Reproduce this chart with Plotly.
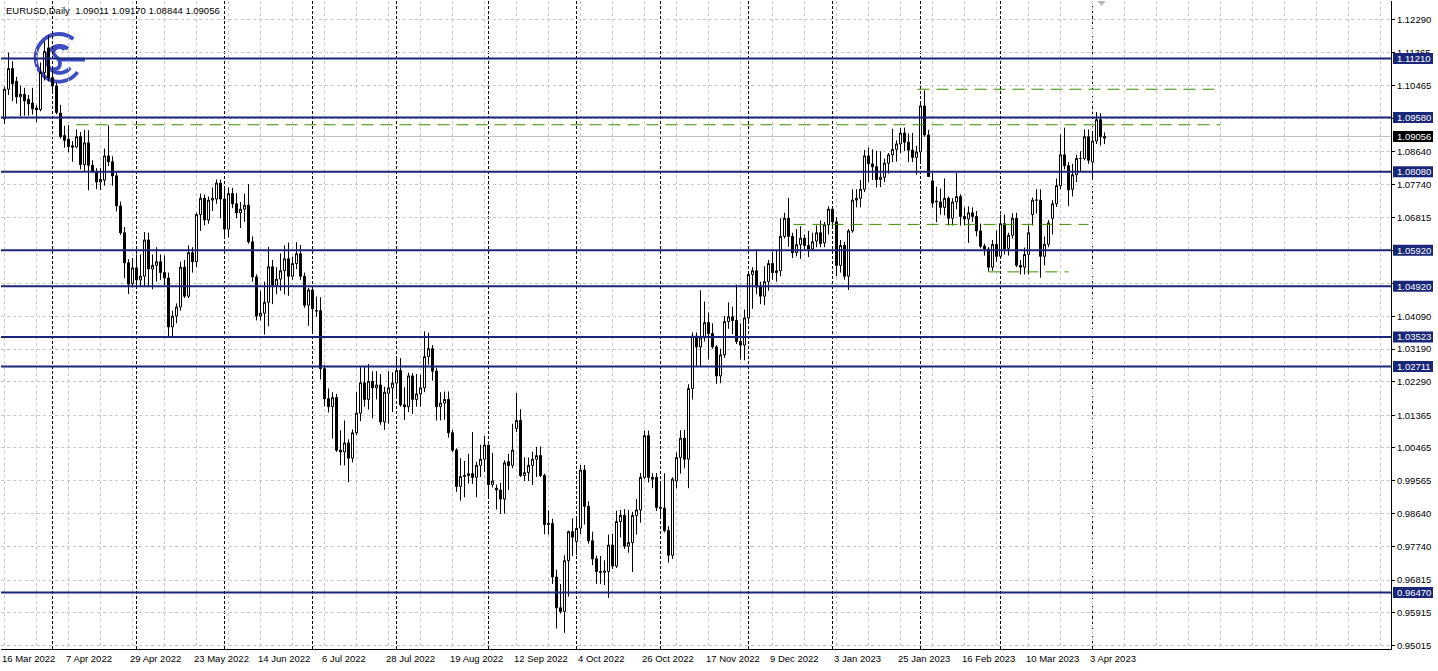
import base64
import plotly.graph_objects as go

# ---- daily bars, (open, high, low, close) per month ----
mar_2022 = [
    (1.0954, 1.1043, 1.0940, 1.1036), (1.1036, 1.1137, 1.1020, 1.1093), (1.1093, 1.1113, 1.1003, 1.1051),
    (1.1058, 1.1070, 1.0996, 1.1015), (1.1015, 1.1046, 1.0962, 1.1022), (1.1022, 1.1040, 1.0963, 1.1004),
    (1.1008, 1.1020, 1.0963, 1.0996), (1.0998, 1.1040, 1.0966, 1.0982), (1.0984, 1.0992, 1.0945, 1.0979),
    (1.0980, 1.1110, 1.0975, 1.1082), (1.1082, 1.1168, 1.1060, 1.1140), (1.1150, 1.1185, 1.1058, 1.1068),
]
apr_2022 = [
    (1.1068, 1.1090, 1.1030, 1.1045), (1.1045, 1.1054, 1.0967, 1.0972), (1.0970, 1.0993, 1.0900, 1.0905),
    (1.0908, 1.0935, 1.0875, 1.0895), (1.0898, 1.0937, 1.0862, 1.0878), (1.0880, 1.0893, 1.0836, 1.0876),
    (1.0877, 1.0925, 1.0873, 1.0905), (1.0905, 1.0918, 1.0815, 1.0828), (1.0828, 1.0924, 1.0808, 1.0888),
    (1.0888, 1.0923, 1.0757, 1.0826), (1.0826, 1.0840, 1.0805, 1.0810), (1.0808, 1.0818, 1.0760, 1.0780),
    (1.0780, 1.0819, 1.0758, 1.0787), (1.0785, 1.0872, 1.0770, 1.0852), (1.0852, 1.0936, 1.0824, 1.0836),
    (1.0836, 1.0851, 1.0770, 1.0797), (1.0797, 1.0807, 1.0699, 1.0714), (1.0714, 1.0726, 1.0634, 1.0640),
    (1.0640, 1.0656, 1.0514, 1.0557), (1.0557, 1.0567, 1.0471, 1.0498), (1.0500, 1.0570, 1.0489, 1.0543),
]
may_2022 = [
    (1.0543, 1.0580, 1.0490, 1.0510), (1.0510, 1.0580, 1.0490, 1.0520), (1.0520, 1.0642, 1.0490, 1.0620),
    (1.0620, 1.0640, 1.0490, 1.0540), (1.0540, 1.0580, 1.0484, 1.0550), (1.0550, 1.0600, 1.0505, 1.0560),
    (1.0560, 1.0580, 1.0510, 1.0530), (1.0530, 1.0577, 1.0495, 1.0515), (1.0515, 1.0530, 1.0350, 1.0380),
    (1.0380, 1.0425, 1.0350, 1.0410), (1.0410, 1.0445, 1.0390, 1.0435), (1.0435, 1.0560, 1.0425, 1.0545),
    (1.0545, 1.0565, 1.0460, 1.0465), (1.0465, 1.0605, 1.0460, 1.0585), (1.0585, 1.0600, 1.0530, 1.0560),
    (1.0560, 1.0695, 1.0545, 1.0690), (1.0690, 1.0748, 1.0645, 1.0735), (1.0735, 1.0745, 1.0660, 1.0675),
    (1.0675, 1.0740, 1.0665, 1.0730), (1.0730, 1.0765, 1.0700, 1.0735), (1.0733, 1.0787, 1.0720, 1.0777),
    (1.0777, 1.0787, 1.0680, 1.0733),
]
jun_2022 = [
    (1.0733, 1.0765, 1.0625, 1.0650), (1.0650, 1.0765, 1.0627, 1.0748), (1.0748, 1.0764, 1.0708, 1.0720),
    (1.0720, 1.0750, 1.0680, 1.0695), (1.0695, 1.0725, 1.0653, 1.0705), (1.0705, 1.0748, 1.0670, 1.0716),
    (1.0716, 1.0774, 1.0610, 1.0615), (1.0615, 1.0630, 1.0505, 1.0518), (1.0518, 1.0525, 1.0398, 1.0410),
    (1.0410, 1.0480, 1.0398, 1.0418), (1.0418, 1.0505, 1.0359, 1.0448), (1.0448, 1.0601, 1.0382, 1.0546),
    (1.0546, 1.0565, 1.0443, 1.0495), (1.0495, 1.0545, 1.0470, 1.0512), (1.0512, 1.0583, 1.0480, 1.0535),
    (1.0535, 1.0605, 1.0470, 1.0568), (1.0568, 1.0613, 1.0466, 1.0520), (1.0520, 1.0574, 1.0510, 1.0555),
    (1.0555, 1.0614, 1.0540, 1.0582), (1.0582, 1.0606, 1.0510, 1.0520), (1.0520, 1.0530, 1.0433, 1.0440),
    (1.0440, 1.0488, 1.0383, 1.0482),
]
jul_2022 = [
    (1.0482, 1.0486, 1.0366, 1.0430), (1.0425, 1.0464, 1.0408, 1.0424), (1.0425, 1.0462, 1.0235, 1.0265),
    (1.0265, 1.0275, 1.0161, 1.0182), (1.0182, 1.0210, 1.0144, 1.0160), (1.0160, 1.0200, 1.0072, 1.0185),
    (1.0185, 1.0195, 1.0035, 1.0040), (1.0040, 1.0095, 0.9998, 1.0035), (1.0035, 1.0122, 0.9998, 1.0060),
    (1.0060, 1.0070, 0.9952, 1.0018), (1.0018, 1.0097, 1.0006, 1.0088), (1.0088, 1.0201, 1.0082, 1.0142),
    (1.0142, 1.0269, 1.0120, 1.0226), (1.0226, 1.0272, 1.0160, 1.0180), (1.0180, 1.0278, 1.0152, 1.0230),
    (1.0230, 1.0258, 1.0128, 1.0212), (1.0212, 1.0258, 1.0180, 1.0220), (1.0220, 1.0250, 1.0110, 1.0118),
    (1.0118, 1.0215, 1.0096, 1.0200), (1.0197, 1.0258, 1.0113, 1.0212), (1.0212, 1.0255, 1.0145, 1.0225),
]
aug_2022 = [
    (1.0225, 1.0294, 1.0187, 1.0260), (1.0260, 1.0294, 1.0160, 1.0165), (1.0165, 1.0214, 1.0123, 1.0160),
    (1.0160, 1.0254, 1.0145, 1.0245), (1.0245, 1.0252, 1.0140, 1.0180), (1.0180, 1.0250, 1.0160, 1.0195),
    (1.0195, 1.0248, 1.0160, 1.0212), (1.0212, 1.0368, 1.0200, 1.0298), (1.0298, 1.0364, 1.0276, 1.0320),
    (1.0320, 1.0330, 1.0232, 1.0258), (1.0258, 1.0268, 1.0122, 1.0160), (1.0160, 1.0200, 1.0122, 1.0170),
    (1.0170, 1.0202, 1.0124, 1.0180), (1.0180, 1.0202, 1.0075, 1.0088), (1.0088, 1.0096, 1.0035, 1.0040),
    (1.0040, 1.0045, 0.9925, 0.9940), (0.9940, 1.0018, 0.9900, 0.9967), (0.9967, 1.0010, 0.9910, 0.9970),
    (0.9970, 1.0030, 0.9948, 0.9975), (0.9975, 1.0090, 0.9947, 0.9965), (0.9965, 1.0008, 0.9910, 0.9998),
    (0.9998, 1.0055, 0.9966, 1.0015), (1.0015, 1.0079, 0.9980, 1.0054),
]
sep_2022 = [
    (1.0054, 1.0055, 0.9910, 0.9945), (0.9945, 1.0033, 0.9937, 0.9955), (0.9935, 0.9945, 0.9876, 0.9930),
    (0.9930, 0.9950, 0.9864, 0.9905), (0.9905, 1.0012, 0.9865, 1.0005), (1.0008, 1.0030, 0.9930, 0.9998),
    (0.9998, 1.0113, 0.9990, 1.0040), (1.0100, 1.0198, 1.0090, 1.0122), (1.0122, 1.0153, 0.9966, 0.9970),
    (0.9970, 1.0020, 0.9955, 0.9978), (0.9978, 1.0020, 0.9955, 0.9998), (0.9998, 1.0036, 0.9944, 1.0015),
    (1.0015, 1.0049, 0.9966, 1.0025), (1.0025, 1.0050, 0.9966, 0.9970), (0.9970, 0.9975, 0.9808, 0.9835),
    (0.9835, 0.9874, 0.9807, 0.9838), (0.9838, 0.9851, 0.9671, 0.9690), (0.9690, 0.9710, 0.9548, 0.9605),
    (0.9605, 0.9671, 0.9589, 0.9595), (0.9595, 0.9750, 0.9536, 0.9735), (0.9735, 0.9818, 0.9636, 0.9815),
    (0.9815, 0.9852, 0.9748, 0.9800),
]
oct_2022 = [
    (0.9788, 0.9853, 0.9750, 0.9824), (0.9825, 0.9999, 0.9808, 0.9985), (0.9985, 0.9999, 0.9835, 0.9885),
    (0.9885, 0.9899, 0.9782, 0.9790), (0.9790, 0.9815, 0.9723, 0.9740), (0.9740, 0.9749, 0.9671, 0.9705),
    (0.9705, 0.9748, 0.9671, 0.9703), (0.9703, 0.9736, 0.9668, 0.9706), (0.9705, 0.9807, 0.9632, 0.9778),
    (0.9778, 0.9809, 0.9712, 0.9720), (0.9720, 0.9873, 0.9715, 0.9843), (0.9843, 0.9875, 0.9799, 0.9860),
    (0.9860, 0.9877, 0.9767, 0.9775), (0.9775, 0.9875, 0.9757, 0.9785), (0.9785, 0.9870, 0.9704, 0.9860),
    (0.9860, 0.9905, 0.9807, 0.9875), (0.9875, 0.9977, 0.9840, 0.9965), (0.9965, 1.0094, 0.9960, 1.0080),
    (1.0080, 1.0094, 0.9951, 0.9965), (0.9965, 0.9976, 0.9935, 0.9960), (0.9965, 0.9977, 0.9872, 0.9882),
]
nov_2022 = [
    (0.9882, 0.9954, 0.9851, 0.9880), (0.9880, 0.9976, 0.9813, 0.9818), (0.9818, 0.9830, 0.9730, 0.9750),
    (0.9750, 0.9965, 0.9740, 0.9960), (0.9955, 1.0034, 0.9935, 1.0020), (1.0020, 1.0095, 0.9975, 1.0073),
    (1.0073, 1.0096, 0.9990, 1.0015), (1.0015, 1.0222, 0.9935, 1.0210), (1.0210, 1.0365, 1.0180, 1.0355),
    (1.0355, 1.0365, 1.0270, 1.0325), (1.0325, 1.0481, 1.0270, 1.0350), (1.0350, 1.0450, 1.0340, 1.0392),
    (1.0392, 1.0420, 1.0290, 1.0362), (1.0362, 1.0390, 1.0320, 1.0325), (1.0325, 1.0330, 1.0223, 1.0245),
    (1.0245, 1.0320, 1.0225, 1.0303), (1.0303, 1.0410, 1.0295, 1.0395), (1.0395, 1.0448, 1.0375, 1.0408),
    (1.0408, 1.0436, 1.0360, 1.0398), (1.0398, 1.0497, 1.0333, 1.0340), (1.0340, 1.0390, 1.0290, 1.0330),
    (1.0330, 1.0428, 1.0288, 1.0405),
]
dec_2022 = [
    (1.0405, 1.0534, 1.0390, 1.0525), (1.0525, 1.0545, 1.0430, 1.0535), (1.0535, 1.0595, 1.0470, 1.0490),
    (1.0490, 1.0505, 1.0443, 1.0465), (1.0465, 1.0548, 1.0440, 1.0505), (1.0505, 1.0565, 1.0480, 1.0555),
    (1.0555, 1.0588, 1.0510, 1.0530), (1.0530, 1.0590, 1.0505, 1.0535), (1.0535, 1.0680, 1.0520, 1.0630),
    (1.0630, 1.0695, 1.0624, 1.0680), (1.0680, 1.0736, 1.0601, 1.0630), (1.0630, 1.0640, 1.0570, 1.0585),
    (1.0585, 1.0650, 1.0575, 1.0607), (1.0607, 1.0658, 1.0568, 1.0625), (1.0625, 1.0635, 1.0590, 1.0605),
    (1.0605, 1.0645, 1.0573, 1.0595), (1.0595, 1.0640, 1.0590, 1.0615), (1.0617, 1.0660, 1.0600, 1.0640),
    (1.0640, 1.0674, 1.0600, 1.0610), (1.0612, 1.0670, 1.0600, 1.0662), (1.0662, 1.0713, 1.0635, 1.0705),
]
jan_2023 = [
    (1.0705, 1.0713, 1.0655, 1.0670), (1.0670, 1.0683, 1.0520, 1.0550), (1.0550, 1.0620, 1.0530, 1.0605),
    (1.0605, 1.0615, 1.0510, 1.0520), (1.0520, 1.0650, 1.0482, 1.0645), (1.0645, 1.0760, 1.0640, 1.0730),
    (1.0730, 1.0760, 1.0710, 1.0735), (1.0735, 1.0786, 1.0710, 1.0760), (1.0760, 1.0868, 1.0752, 1.0852),
    (1.0852, 1.0875, 1.0780, 1.0830), (1.0830, 1.0870, 1.0786, 1.0822), (1.0822, 1.0866, 1.0765, 1.0787),
    (1.0787, 1.0865, 1.0766, 1.0793), (1.0793, 1.0845, 1.0780, 1.0832), (1.0832, 1.0860, 1.0803, 1.0855),
    (1.0855, 1.0927, 1.0835, 1.0870), (1.0870, 1.0895, 1.0836, 1.0885), (1.0885, 1.0929, 1.0860, 1.0915),
    (1.0915, 1.0930, 1.0865, 1.0890), (1.0890, 1.0914, 1.0835, 1.0868), (1.0868, 1.0915, 1.0835, 1.0848),
    (1.0848, 1.0880, 1.0800, 1.0863),
]
feb_2023 = [
    (1.0863, 1.0998, 1.0830, 1.0990), (1.0990, 1.1033, 1.0905, 1.0910), (1.0910, 1.0924, 1.0795, 1.0795),
    (1.0783, 1.0805, 1.0710, 1.0722), (1.0725, 1.0767, 1.0669, 1.0727), (1.0725, 1.0762, 1.0690, 1.0710),
    (1.0710, 1.0790, 1.0688, 1.0735), (1.0735, 1.0740, 1.0660, 1.0680), (1.0680, 1.0735, 1.0660, 1.0725),
    (1.0725, 1.0805, 1.0705, 1.0740), (1.0740, 1.0746, 1.0660, 1.0685), (1.0685, 1.0710, 1.0660, 1.0678),
    (1.0678, 1.0713, 1.0612, 1.0695), (1.0695, 1.0710, 1.0670, 1.0685), (1.0685, 1.0700, 1.0630, 1.0645),
    (1.0645, 1.0665, 1.0597, 1.0603), (1.0603, 1.0610, 1.0577, 1.0595), (1.0595, 1.0600, 1.0533, 1.0545),
    (1.0545, 1.0620, 1.0535, 1.0608), (1.0608, 1.0646, 1.0560, 1.0575),
]
mar_2023 = [
    (1.0575, 1.0690, 1.0571, 1.0665), (1.0665, 1.0690, 1.0580, 1.0595), (1.0597, 1.0640, 1.0577, 1.0633),
    (1.0633, 1.0694, 1.0624, 1.0680), (1.0680, 1.0695, 1.0545, 1.0550), (1.0550, 1.0565, 1.0525, 1.0545),
    (1.0545, 1.0599, 1.0525, 1.0580), (1.0580, 1.0660, 1.0525, 1.0640), (1.0690, 1.0737, 1.0660, 1.0730),
    (1.0730, 1.0760, 1.0693, 1.0730), (1.0730, 1.0760, 1.0516, 1.0575), (1.0575, 1.0630, 1.0550, 1.0608),
    (1.0608, 1.0675, 1.0600, 1.0667), (1.0680, 1.0730, 1.0635, 1.0720), (1.0720, 1.0790, 1.0711, 1.0770),
    (1.0770, 1.0911, 1.0760, 1.0855), (1.0855, 1.0930, 1.0815, 1.0825), (1.0825, 1.0835, 1.0713, 1.0758),
    (1.0760, 1.0830, 1.0740, 1.0800), (1.0800, 1.0855, 1.0780, 1.0845), (1.0845, 1.0865, 1.0810, 1.0845),
    (1.0845, 1.0925, 1.0840, 1.0905), (1.0905, 1.0925, 1.0830, 1.0840),
]
apr_2023 = [
    (1.0835, 1.0918, 1.0786, 1.0893), (1.0893, 1.0973, 1.0885, 1.0952), (1.0952, 1.0970, 1.0880, 1.0905),
    (1.09011, 1.09170, 1.08844, 1.09056),
]

months = [mar_2022, apr_2022, may_2022, jun_2022, jul_2022, aug_2022, sep_2022,
          oct_2022, nov_2022, dec_2022, jan_2023, feb_2023, mar_2023, apr_2023]

date_labels = ["16 Mar 2022", "7 Apr 2022", "29 Apr 2022", "23 May 2022", "14 Jun 2022", "6 Jul 2022",
               "28 Jul 2022", "19 Aug 2022", "12 Sep 2022", "4 Oct 2022", "26 Oct 2022", "17 Nov 2022",
               "9 Dec 2022", "3 Jan 2023", "25 Jan 2023", "16 Feb 2023", "10 Mar 2023", "3 Apr 2023"]
label_step = 16
grid_step = 8

price_ticks = [1.12290, 1.11365, 1.10465, 1.09565, 1.08640, 1.07740, 1.06815, 1.05915, 1.04990, 1.04090,
               1.03190, 1.02290, 1.01365, 1.00465, 0.99565, 0.98640, 0.97740, 0.96815, 0.95915, 0.95015]
level_lines = [1.11210, 1.09580, 1.08080, 1.05920, 1.04920, 1.03523, 1.02711, 0.96470]
bid_price = 1.09056
# green trend/level segments: (start bar, end bar, price)
green_segments = [(18, 304, 1.0938), (228.25, 304, 1.1036), (197.25, 271, 1.0663), (246, 266, 1.0532)]
header = "EURUSD,Daily  1.09011 1.09170 1.08844 1.09056"

# ---- derived ----
bars = [b for m in months for b in m]
opens = [b[0] for b in bars]
highs = [b[1] for b in bars]
lows = [b[2] for b in bars]
closes = [b[3] for b in bars]
xs = list(range(len(bars)))
month_starts = []
acc = 0
for m in months[:-1]:
    acc += len(m)
    month_starts.append(acc)

W, H = 1438, 671
ML, MR, MT, MB = 1, 47, 1, 22
PW, PH = W - ML - MR, H - MT - MB
x_lo = -0.875
x_hi = x_lo + PW / 4.0
y_lo, y_hi = 0.949129, 1.127950

NAVY = "#1a2778"
GREEN = "#3c8c00"
FONT = "Liberation Sans, Arial, sans-serif"

fig = go.Figure()
fig.add_trace(go.Candlestick(
    x=xs, open=opens, high=highs, low=lows, close=closes,
    increasing=dict(line=dict(color="black", width=1), fillcolor="white"),
    decreasing=dict(line=dict(color="black", width=1), fillcolor="black"),
    whiskerwidth=0, hoverinfo="skip", showlegend=False,
))

shapes = []
for ms in month_starts:
    shapes.append(dict(type="line", xref="x", yref="paper", x0=ms, x1=ms, y0=0, y1=1,
                       line=dict(color="black", width=1, dash="3px,2px"), layer="below"))
shapes.append(dict(type="line", xref="x", yref="y", x0=x_lo, x1=x_hi, y0=bid_price, y1=bid_price,
                   line=dict(color="#c0c0c0", width=1), layer="below"))
for lv in level_lines:
    shapes.append(dict(type="line", xref="x", yref="y", x0=x_lo, x1=x_hi, y0=lv, y1=lv,
                       line=dict(color=NAVY, width=2)))
for (a, b, p) in green_segments:
    shapes.append(dict(type="line", xref="x", yref="y", x0=a, x1=b, y0=p, y1=p,
                       line=dict(color=GREEN, width=1, dash="12px,7px")))
tri_h = 5.0 / PH
shapes.append(dict(type="path", xref="x", yref="paper",
                   path=f"M 273.25,1 L 275.25,1 L 274.25,{1 - tri_h} Z",
                   fillcolor="#b4b4b4", line=dict(width=0)))

annotations = []
def py(p):
    return (p - y_lo) / (y_hi - y_lo)

def px(i):
    return (i - x_lo) / (x_hi - x_lo)

box_h = 5.5 / PH
bx0, bx1 = 1 + 2.0 / PW, 1 + 42.0 / PW
lab_font = dict(color="white", size=9.5, family=FONT)
for lv in level_lines:
    shapes.append(dict(type="rect", xref="paper", yref="paper", x0=bx0, x1=bx1,
                       y0=py(lv) - box_h, y1=py(lv) + box_h, fillcolor=NAVY, line=dict(width=0)))
    annotations.append(dict(xref="paper", yref="y", x=1 + 4.0 / PW, y=lv, xanchor="left", yanchor="middle",
                            text=f"{lv:.5f}", showarrow=False, font=lab_font))
shapes.append(dict(type="rect", xref="paper", yref="paper", x0=bx0, x1=bx1,
                   y0=py(bid_price) - box_h, y1=py(bid_price) + box_h, fillcolor="black", line=dict(width=0)))
annotations.append(dict(xref="paper", yref="y", x=1 + 4.0 / PW, y=bid_price, xanchor="left", yanchor="middle",
                        text=f"{bid_price:.5f}", showarrow=False, font=lab_font))

for k, lab in enumerate(date_labels):
    annotations.append(dict(xref="paper", yref="paper", x=px(k * label_step - 1.1), y=0, xanchor="left",
                            yanchor="top", yshift=-2, text=lab, showarrow=False,
                            font=dict(color="black", size=9.5, family=FONT)))

annotations.append(dict(xref="paper", yref="paper", x=3.0 / PW, y=1 - 10.0 / PH, xanchor="left", yanchor="middle",
                        text=header.replace("  ", "&nbsp; "), showarrow=False,
                        font=dict(color="black", size=9.5, family=FONT)))

logo_svg = """<svg xmlns='http://www.w3.org/2000/svg' width='100' height='100' viewBox='0 0 100 100'>
<g fill='none' stroke='#3f4cc0' stroke-width='7'>
<path d='M 78 15 A 44 44 0 1 0 86 76'/>
<path d='M 68 33 A 25 25 0 1 0 72 68'/>
<path d='M 52 53 L 100 53'/>
<path d='M 62 34 C 50 24 32 36 45 47 C 58 57 54 74 38 70'/>
</g></svg>"""
logo_uri = "data:image/svg+xml;base64," + base64.b64encode(logo_svg.encode()).decode()

fig.update_layout(
    width=W, height=H, autosize=False,
    margin=dict(l=ML, r=MR, t=MT, b=MB, pad=0),
    paper_bgcolor="white", plot_bgcolor="rgba(0,0,0,0)",
    showlegend=False, boxgap=0.5, boxgroupgap=0,
    shapes=shapes, annotations=annotations,
    images=[dict(source=logo_uri, xref="paper", yref="paper", x=31.0 / PW, y=1 - 30.0 / PH,
                 sizex=53.0 / PW, sizey=54.0 / PH, xanchor="left", yanchor="top", sizing="stretch",
                 layer="below")],
    xaxis=dict(range=[x_lo, x_hi], rangeslider=dict(visible=False), showgrid=True,
               tickvals=list(range(0, 347, grid_step)), showticklabels=False, ticks="",
               gridcolor="#c8c8c8", griddash="3px,3px", gridwidth=1, zeroline=False,
               showline=True, linecolor="black", linewidth=1),
    yaxis=dict(range=[y_lo, y_hi], side="right", tickvals=price_ticks,
               ticktext=[f"{t:.5f}" for t in price_ticks], showgrid=True, gridcolor="#c8c8c8",
               griddash="3px,3px", gridwidth=1, zeroline=False, ticks="outside", ticklen=3,
               tickcolor="black", showline=True, linecolor="black", linewidth=1,
               tickfont=dict(size=9.5, color="black", family=FONT)),
)

fig.write_html("out.html", config={"displayModeBar": False},
               post_script="document.body.style.margin='0';document.body.style.overflow='hidden';")
